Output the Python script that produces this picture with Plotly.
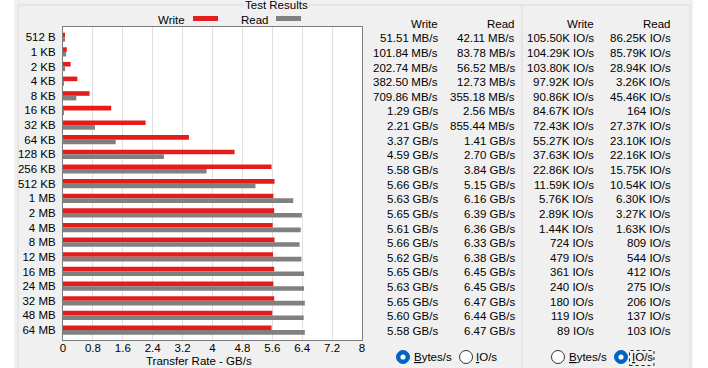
import plotly.graph_objects as go

# ---------------- data ----------------
sizes = ["512 B", "1 KB", "2 KB", "4 KB", "8 KB", "16 KB", "32 KB", "64 KB", "128 KB",
         "256 KB", "512 KB", "1 MB", "2 MB", "4 MB", "8 MB", "12 MB", "16 MB", "24 MB",
         "32 MB", "48 MB", "64 MB"]
write_rate = ["51.51 MB/s", "101.84 MB/s", "202.74 MB/s", "382.50 MB/s", "709.86 MB/s",
              "1.29 GB/s", "2.21 GB/s", "3.37 GB/s", "4.59 GB/s", "5.58 GB/s", "5.66 GB/s",
              "5.63 GB/s", "5.65 GB/s", "5.61 GB/s", "5.66 GB/s", "5.62 GB/s", "5.65 GB/s",
              "5.63 GB/s", "5.65 GB/s", "5.60 GB/s", "5.58 GB/s"]
read_rate = ["42.11 MB/s", "83.78 MB/s", "56.52 MB/s", "12.73 MB/s", "355.18 MB/s",
             "2.56 MB/s", "855.44 MB/s", "1.41 GB/s", "2.70 GB/s", "3.84 GB/s", "5.15 GB/s",
             "6.16 GB/s", "6.39 GB/s", "6.36 GB/s", "6.33 GB/s", "6.38 GB/s", "6.45 GB/s",
             "6.45 GB/s", "6.47 GB/s", "6.44 GB/s", "6.47 GB/s"]
write_io = ["105.50K IO/s", "104.29K IO/s", "103.80K IO/s", "97.92K IO/s", "90.86K IO/s",
            "84.67K IO/s", "72.43K IO/s", "55.27K IO/s", "37.63K IO/s", "22.86K IO/s",
            "11.59K IO/s", "5.76K IO/s", "2.89K IO/s", "1.44K IO/s", "724 IO/s", "479 IO/s",
            "361 IO/s", "240 IO/s", "180 IO/s", "119 IO/s", "89 IO/s"]
read_io = ["86.25K IO/s", "85.79K IO/s", "28.94K IO/s", "3.26K IO/s", "45.46K IO/s",
           "164 IO/s", "27.37K IO/s", "23.10K IO/s", "22.16K IO/s", "15.75K IO/s",
           "10.54K IO/s", "6.30K IO/s", "3.27K IO/s", "1.63K IO/s", "809 IO/s", "544 IO/s",
           "412 IO/s", "275 IO/s", "206 IO/s", "137 IO/s", "103 IO/s"]
x_ticks = [0, 0.8, 1.6, 2.4, 3.2, 4, 4.8, 5.6, 6.4, 7.2, 8]
x_tick_labels = ["0", "0.8", "1.6", "2.4", "3.2", "4", "4.8", "5.6", "6.4", "7.2", "8"]
series_names = ["Write", "Read"]
table_headers = ["Write", "Read", "Write", "Read"]


def to_gb(s):
    v, unit = s.split()
    v = float(v)
    return v / 1000.0 if unit.startswith("MB") else v


write_gb = [to_gb(s) for s in write_rate]
read_gb = [to_gb(s) for s in read_rate]
idx = list(range(len(sizes)))

# ---------------- geometry ----------------
W, H = 708, 368
L, R, T, B = 63, 346, 27, 28
PW, PH = W - L - R, H - T - B
FONT = "Liberation Sans, Arial, sans-serif"
BG = "#f0f0f0"
RED = "#e41c1c"
GRAY = "#808080"
EDGE = "#dadada"


def px(x):
    return (x - L) / PW


def py(y):
    return (H - B - y) / PH


fig = go.Figure()
fig.add_trace(go.Bar(y=idx, x=write_gb, orientation="h", name=series_names[0],
                     marker=dict(color=RED, line=dict(width=0))))
fig.add_trace(go.Bar(y=idx, x=read_gb, orientation="h", name=series_names[1],
                     marker=dict(color=GRAY, line=dict(width=0))))

shapes = []
# white strips at left/right
shapes.append(dict(type="rect", xref="paper", yref="paper", x0=px(0), x1=px(14),
                   y0=py(H), y1=py(0), fillcolor="white", line=dict(width=0), layer="below"))
shapes.append(dict(type="rect", xref="paper", yref="paper", x0=px(693), x1=px(W),
                   y0=py(H), y1=py(0), fillcolor="white", line=dict(width=0), layer="below"))
# group box lines
for (x0, y0, x1, y1) in [(18, 5, 690, 5), (18, 5, 18, H), (690, 5, 690, H),
                         (522, 5, 522, H)]:
    shapes.append(dict(type="line", xref="paper", yref="paper", x0=px(x0), x1=px(x1),
                       y0=py(y0), y1=py(y1), line=dict(color=EDGE, width=1), layer="below"))
# legend swatches
shapes.append(dict(type="rect", xref="paper", yref="paper", x0=px(193), x1=px(218),
                   y0=py(21), y1=py(16), fillcolor=RED, line=dict(width=0)))
shapes.append(dict(type="rect", xref="paper", yref="paper", x0=px(276), x1=px(301),
                   y0=py(21), y1=py(16), fillcolor=GRAY, line=dict(width=0)))


def radio(cx, cy, selected):
    r = 6.5
    if selected:
        shapes.append(dict(type="circle", xref="paper", yref="paper",
                           x0=px(cx - r), x1=px(cx + r), y0=py(cy + r), y1=py(cy - r),
                           fillcolor="#0063c6", line=dict(color="#0063c6", width=1)))
        r2 = 2.6
        shapes.append(dict(type="circle", xref="paper", yref="paper",
                           x0=px(cx - r2), x1=px(cx + r2), y0=py(cy + r2), y1=py(cy - r2),
                           fillcolor="white", line=dict(width=0)))
    else:
        shapes.append(dict(type="circle", xref="paper", yref="paper",
                           x0=px(cx - r), x1=px(cx + r), y0=py(cy + r), y1=py(cy - r),
                           fillcolor="white", line=dict(color="#333333", width=1)))


radio(403, 357, True)
radio(466, 357, False)
radio(558, 357, False)
radio(621, 357, True)
# focus rectangle
shapes.append(dict(type="rect", xref="paper", yref="paper", x0=px(629.5), x1=px(654),
                   y0=py(365.5), y1=py(350.5), fillcolor="rgba(0,0,0,0)",
                   line=dict(color="#222222", width=1, dash="dot")))

ann = []


def text(x, y, s, anchor="center", size=11.5, bg=None, yref="paper", yshift=0):
    d = dict(x=px(x), y=(py(y) if yref == "paper" else y), xref="paper", yref=yref,
             text=s, showarrow=False, xanchor=anchor, yanchor="middle",
             font=dict(family=FONT, size=size, color="black"), borderpad=0,
             yshift=yshift)
    if bg:
        d["bgcolor"] = bg
    ann.append(d)


text(276.5, 5, "Test Results", bg=BG, size=11.5)
text(186, 19.5, series_names[0], anchor="right", size=11.5)
text(270, 19.5, series_names[1], anchor="right", size=11.5)
text(199, 361, "Transfer Rate - GB/s", size=11.5)

col_right = [438.5, 515.5, 594.5, 672]
for c, h in zip(col_right, table_headers):
    text(c, 24, h, anchor="right")
for cols, c in zip([write_rate, read_rate, write_io, read_io], col_right):
    for i, s in enumerate(cols):
        text(c, i, s, anchor="right", yref="y", yshift=-1)

U = "<span style='text-decoration:underline'>{}</span>"
text(413, 357, U.format("B") + "ytes/s", anchor="left")
text(475, 357, U.format("I") + "O/s", anchor="left")
text(568, 357, U.format("B") + "ytes/s", anchor="left")
text(631, 357, U.format("I") + "O/s", anchor="left")

fig.update_layout(
    width=W, height=H, margin=dict(l=L, r=R, t=T, b=B, pad=0, autoexpand=False),
    paper_bgcolor=BG, plot_bgcolor="white", showlegend=False,
    barmode="group", bargap=0.37, bargroupgap=0,
    font=dict(family=FONT, size=11.5, color="black"),
    shapes=shapes, annotations=ann,
    xaxis=dict(range=[0, 8], tickmode="array", tickvals=x_ticks, ticktext=x_tick_labels,
               showgrid=True, gridcolor="#e0e0e0", gridwidth=1, zeroline=False,
               showline=True, linecolor="#7c7c7c", linewidth=1, mirror=True, ticks="",
               ticklabelstandoff=-3,
               tickfont=dict(family=FONT, size=11.5, color="black"), automargin=False,
               fixedrange=True),
    yaxis=dict(range=[20.68, -0.70], tickmode="array", tickvals=idx, ticktext=sizes,
               showgrid=False, zeroline=False, showline=True, linecolor="#7c7c7c",
               linewidth=1, mirror=True, ticks="", ticklabelstandoff=4,
               tickfont=dict(family=FONT, size=11.5, color="black"), automargin=False,
               fixedrange=True),
)

fig.write_html("out.html", config={"displayModeBar": False})
